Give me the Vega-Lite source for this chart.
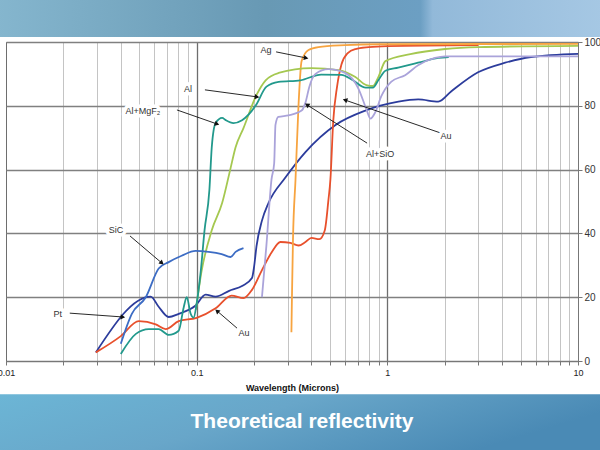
{
  "$schema": "https://vega.github.io/schema/vega-lite/v6.json",
  "width": 572,
  "height": 319,
  "autosize": {"type": "none"},
  "padding": {"left": 6, "top": 42, "right": 22, "bottom": 89},
  "background": "white",
  "title": {
    "text": "Theoretical reflectivity",
    "orient": "bottom",
    "anchor": "middle",
    "frame": "group",
    "color": "white",
    "font": "Liberation Sans",
    "fontSize": 21,
    "fontWeight": "bold",
    "offset": -39,
    "dx": 10,
    "zindex": 1
  },
  "config": {
    "view": {"stroke": "#8a8a8a"},
    "font": "Liberation Sans"
  },
  "datasets": {
    "curves": [
      {"m": "Pt", "w": 0.0296, "r": 2.7}, {"m": "Pt", "w": 0.0574, "r": 20.2}, {"m": "Pt", "w": 0.0632, "r": 17}, {"m": "Pt", "w": 0.0713, "r": 13.8}, {"m": "Pt", "w": 0.0805, "r": 14.8}, {"m": "Pt", "w": 0.0988, "r": 17.4}, {"m": "Pt", "w": 0.1114, "r": 20.8}, {"m": "Pt", "w": 0.1257, "r": 20.2}, {"m": "Pt", "w": 0.148, "r": 22}, {"m": "Pt", "w": 0.174, "r": 23.6}, {"m": "Pt", "w": 0.195, "r": 26}, {"m": "Pt", "w": 0.2, "r": 29.5}, {"m": "Pt", "w": 0.206, "r": 36}, {"m": "Pt", "w": 0.22, "r": 44}, {"m": "Pt", "w": 0.238, "r": 49.5}, {"m": "Pt", "w": 0.292, "r": 57.5}, {"m": "Pt", "w": 0.372, "r": 65.5}, {"m": "Pt", "w": 0.535, "r": 74}, {"m": "Pt", "w": 0.767, "r": 78.5}, {"m": "Pt", "w": 1.143, "r": 81.3}, {"m": "Pt", "w": 1.452, "r": 82}, {"m": "Pt", "w": 1.85, "r": 81.3}, {"m": "Pt", "w": 2.16, "r": 84.5}, {"m": "Pt", "w": 2.99, "r": 90.5}, {"m": "Pt", "w": 4.15, "r": 93.5}, {"m": "Pt", "w": 5.67, "r": 95.3}, {"m": "Pt", "w": 10, "r": 96.3},
      {"m": "Au", "w": 0.0296, "r": 2.7}, {"m": "Au", "w": 0.04, "r": 7.8}, {"m": "Au", "w": 0.0497, "r": 12.5}, {"m": "Au", "w": 0.061, "r": 11.5}, {"m": "Au", "w": 0.0688, "r": 10}, {"m": "Au", "w": 0.0805, "r": 12.5}, {"m": "Au", "w": 0.1, "r": 13.5}, {"m": "Au", "w": 0.1257, "r": 16.5}, {"m": "Au", "w": 0.1525, "r": 20.5}, {"m": "Au", "w": 0.176, "r": 19.7}, {"m": "Au", "w": 0.195, "r": 22.3}, {"m": "Au", "w": 0.22, "r": 28.5}, {"m": "Au", "w": 0.247, "r": 34}, {"m": "Au", "w": 0.275, "r": 37.3}, {"m": "Au", "w": 0.31, "r": 37}, {"m": "Au", "w": 0.342, "r": 36.2}, {"m": "Au", "w": 0.372, "r": 37.3}, {"m": "Au", "w": 0.4, "r": 38.6}, {"m": "Au", "w": 0.44, "r": 38.2}, {"m": "Au", "w": 0.47, "r": 41}, {"m": "Au", "w": 0.491, "r": 50.5}, {"m": "Au", "w": 0.503, "r": 57}, {"m": "Au", "w": 0.52, "r": 75}, {"m": "Au", "w": 0.545, "r": 86}, {"m": "Au", "w": 0.575, "r": 93}, {"m": "Au", "w": 0.62, "r": 96.5}, {"m": "Au", "w": 0.68, "r": 97.8}, {"m": "Au", "w": 0.8, "r": 98.4}, {"m": "Au", "w": 1, "r": 98.7}, {"m": "Au", "w": 3, "r": 99},
      {"m": "Ag", "w": 0.314, "r": 9}, {"m": "Ag", "w": 0.316, "r": 20}, {"m": "Ag", "w": 0.32, "r": 38}, {"m": "Ag", "w": 0.33, "r": 57}, {"m": "Ag", "w": 0.342, "r": 80}, {"m": "Ag", "w": 0.355, "r": 94}, {"m": "Ag", "w": 0.386, "r": 97.5}, {"m": "Ag", "w": 0.435, "r": 98.4}, {"m": "Ag", "w": 0.6, "r": 99}, {"m": "Ag", "w": 0.9, "r": 99.3}, {"m": "Ag", "w": 10, "r": 99.4},
      {"m": "Al", "w": 0.099, "r": 16}, {"m": "Al", "w": 0.106, "r": 28}, {"m": "Al", "w": 0.12, "r": 41}, {"m": "Al", "w": 0.136, "r": 49.5}, {"m": "Al", "w": 0.15, "r": 60}, {"m": "Al", "w": 0.16, "r": 67}, {"m": "Al", "w": 0.176, "r": 73}, {"m": "Al", "w": 0.206, "r": 83.4}, {"m": "Al", "w": 0.23, "r": 88}, {"m": "Al", "w": 0.269, "r": 90.3}, {"m": "Al", "w": 0.4, "r": 91.8}, {"m": "Al", "w": 0.554, "r": 91.2}, {"m": "Al", "w": 0.68, "r": 89}, {"m": "Al", "w": 0.776, "r": 86.5}, {"m": "Al", "w": 0.84, "r": 86.2}, {"m": "Al", "w": 0.897, "r": 89}, {"m": "Al", "w": 0.977, "r": 94}, {"m": "Al", "w": 1.32, "r": 96.2}, {"m": "Al", "w": 2.01, "r": 97.8}, {"m": "Al", "w": 2.99, "r": 98.4}, {"m": "Al", "w": 10, "r": 98.8},
      {"m": "Al+MgF2", "w": 0.04, "r": 2.2}, {"m": "Al+MgF2", "w": 0.048, "r": 8.5}, {"m": "Al+MgF2", "w": 0.0561, "r": 10}, {"m": "Al+MgF2", "w": 0.0632, "r": 10}, {"m": "Al+MgF2", "w": 0.0713, "r": 8.2}, {"m": "Al+MgF2", "w": 0.0805, "r": 9.5}, {"m": "Al+MgF2", "w": 0.0855, "r": 16.8}, {"m": "Al+MgF2", "w": 0.0887, "r": 20}, {"m": "Al+MgF2", "w": 0.093, "r": 14.8}, {"m": "Al+MgF2", "w": 0.0964, "r": 13.6}, {"m": "Al+MgF2", "w": 0.1, "r": 18}, {"m": "Al+MgF2", "w": 0.105, "r": 28}, {"m": "Al+MgF2", "w": 0.11, "r": 41}, {"m": "Al+MgF2", "w": 0.1166, "r": 53.6}, {"m": "Al+MgF2", "w": 0.12, "r": 67}, {"m": "Al+MgF2", "w": 0.1257, "r": 74.6}, {"m": "Al+MgF2", "w": 0.136, "r": 76.2}, {"m": "Al+MgF2", "w": 0.142, "r": 75.5}, {"m": "Al+MgF2", "w": 0.156, "r": 74.6}, {"m": "Al+MgF2", "w": 0.173, "r": 75.5}, {"m": "Al+MgF2", "w": 0.2036, "r": 80}, {"m": "Al+MgF2", "w": 0.2324, "r": 86}, {"m": "Al+MgF2", "w": 0.269, "r": 87.5}, {"m": "Al+MgF2", "w": 0.35, "r": 88}, {"m": "Al+MgF2", "w": 0.45, "r": 89.8}, {"m": "Al+MgF2", "w": 0.574, "r": 89.7}, {"m": "Al+MgF2", "w": 0.66, "r": 88}, {"m": "Al+MgF2", "w": 0.77, "r": 85.7}, {"m": "Al+MgF2", "w": 0.84, "r": 85.7}, {"m": "Al+MgF2", "w": 0.897, "r": 88}, {"m": "Al+MgF2", "w": 0.977, "r": 91}, {"m": "Al+MgF2", "w": 1.14, "r": 92}, {"m": "Al+MgF2", "w": 1.45, "r": 93.5}, {"m": "Al+MgF2", "w": 1.85, "r": 95}, {"m": "Al+MgF2", "w": 2.1, "r": 95.3},
      {"m": "Al+SiO", "w": 0.22, "r": 20}, {"m": "Al+SiO", "w": 0.232, "r": 36}, {"m": "Al+SiO", "w": 0.247, "r": 57}, {"m": "Al+SiO", "w": 0.255, "r": 62}, {"m": "Al+SiO", "w": 0.259, "r": 74}, {"m": "Al+SiO", "w": 0.268, "r": 76.5}, {"m": "Al+SiO", "w": 0.303, "r": 77}, {"m": "Al+SiO", "w": 0.355, "r": 78.5}, {"m": "Al+SiO", "w": 0.372, "r": 81}, {"m": "Al+SiO", "w": 0.39, "r": 86}, {"m": "Al+SiO", "w": 0.42, "r": 90}, {"m": "Al+SiO", "w": 0.49, "r": 91.5}, {"m": "Al+SiO", "w": 0.6, "r": 90.3}, {"m": "Al+SiO", "w": 0.705, "r": 85.4}, {"m": "Al+SiO", "w": 0.776, "r": 79}, {"m": "Al+SiO", "w": 0.815, "r": 76}, {"m": "Al+SiO", "w": 0.865, "r": 78}, {"m": "Al+SiO", "w": 0.93, "r": 83}, {"m": "Al+SiO", "w": 1.05, "r": 87.6}, {"m": "Al+SiO", "w": 1.24, "r": 89.6}, {"m": "Al+SiO", "w": 1.45, "r": 92.7}, {"m": "Al+SiO", "w": 1.78, "r": 95}, {"m": "Al+SiO", "w": 2.01, "r": 95.5}, {"m": "Al+SiO", "w": 10, "r": 95.5},
      {"m": "SiC", "w": 0.04, "r": 5.4}, {"m": "SiC", "w": 0.0457, "r": 14.8}, {"m": "SiC", "w": 0.0541, "r": 20}, {"m": "SiC", "w": 0.0632, "r": 29}, {"m": "SiC", "w": 0.0713, "r": 31}, {"m": "SiC", "w": 0.0834, "r": 33}, {"m": "SiC", "w": 0.0988, "r": 34.5}, {"m": "SiC", "w": 0.1156, "r": 34.2}, {"m": "SiC", "w": 0.1352, "r": 33.5}, {"m": "SiC", "w": 0.1507, "r": 32.6}, {"m": "SiC", "w": 0.16, "r": 34.2}, {"m": "SiC", "w": 0.176, "r": 35.4}
    ],
    "notes": [
      {"label": "Ag", "lx": 0.231, "ly": 97.5, "sx": 0.261, "sy": 96.9, "tx": 0.375, "ty": 95},
      {"label": "Al", "lx": 0.09, "ly": 85.3, "sx": 0.1105, "sy": 85, "tx": 0.2073, "ty": 82.8},
      {"label": "Al+MgF₂", "lx": 0.0522, "ly": 78.4, "sx": 0.0788, "sy": 78.7, "tx": 0.1279, "ty": 74.3},
      {"label": "SiC", "lx": 0.0377, "ly": 41, "sx": 0.0447, "sy": 39.2, "tx": 0.0657, "ty": 30.7},
      {"label": "Pt", "lx": 0.0187, "ly": 14.7, "sx": 0.0216, "sy": 15, "tx": 0.041, "ty": 13.8},
      {"label": "Au", "lx": 0.177, "ly": 8.8, "sx": 0.1628, "sy": 10.3, "tx": 0.1279, "ty": 15.7},
      {"label": "Al+SiO", "lx": 0.917, "ly": 64.9, "sx": 0.783, "sy": 68.3, "tx": 0.379, "ty": 80.3},
      {"label": "Au", "lx": 2.03, "ly": 70.5, "sx": 1.963, "sy": 71.2, "tx": 0.6, "ty": 81.8}
    ],
    "one": [{"k": 1}]
  },
  "layer": [
    {
      "data": {"name": "curves"},
      "mark": {"type": "line", "strokeWidth": 1.8, "interpolate": "monotone"},
      "encoding": {
        "x": {
          "field": "w", "type": "quantitative", "title": "Wavelength (Microns)",
          "scale": {"type": "log", "domain": [0.01, 10], "nice": false},
          "axis": {
            "values": [0.01, 0.02, 0.03, 0.04, 0.05, 0.06, 0.07, 0.08, 0.09, 0.1, 0.2, 0.3, 0.4, 0.5, 0.6, 0.7, 0.8, 0.9, 1, 2, 3, 4, 5, 6, 7, 8, 9, 10],
            "labelExpr": "datum.value === 0.01 ? '0.01' : datum.value === 0.1 ? '0.1' : datum.value === 1 ? '1' : datum.value === 10 ? '10' : ''",
            "grid": true,
            "gridColor": {"condition": {"test": "datum.value === 0.01 || datum.value === 0.1 || datum.value === 1 || datum.value === 10", "value": "#6e6e6e"}, "value": "#c4c4c4"},
            "gridWidth": {"condition": {"test": "datum.value === 0.1 || datum.value === 1", "value": 1.3}, "value": 1},
            "tickColor": "#777777",
            "tickSize": 4,
            "domainColor": "#777777",
            "labelFontSize": 9,
            "labelColor": "#222222",
            "labelPadding": 3,
            "labelFlush": false,
            "labelOverlap": false,
            "titleFontSize": 9,
            "titleFontWeight": "bold",
            "titleColor": "#111111",
            "titlePadding": 6
          }
        },
        "y": {
          "field": "r", "type": "quantitative", "title": null,
          "scale": {"domain": [0, 100], "nice": false, "zero": false},
          "axis": {
            "orient": "right",
            "values": [0, 5, 10, 15, 20, 25, 30, 35, 40, 45, 50, 55, 60, 65, 70, 75, 80, 85, 90, 95, 100],
            "labelExpr": "datum.value % 10 === 0 ? datum.label : ''",
            "grid": true,
            "gridColor": {"condition": {"test": "datum.value % 10 === 0", "value": "#808080"}, "value": "#d6d6d6"},
            "gridWidth": {"condition": {"test": "datum.value % 10 === 0", "value": 1.3}, "value": 1},
            "tickOpacity": {"condition": {"test": "datum.value % 10 === 0", "value": 1}, "value": 0},
            "tickColor": "#777777",
            "tickSize": 4,
            "domainColor": "#777777",
            "labelFontSize": 10,
            "labelColor": "#333333",
            "labelPadding": 2,
            "labelFlush": false,
            "labelOverlap": false
          }
        },
        "color": {
          "field": "m", "type": "nominal", "legend": null,
          "scale": {
            "domain": ["Pt", "Au", "Ag", "Al", "Al+MgF2", "Al+SiO", "SiC"],
            "range": ["#2c3c9c", "#e8502c", "#f7a440", "#a5c850", "#22998c", "#aaa3da", "#3c6cc4"]
          }
        }
      }
    },
    {
      "data": {"name": "one"},
      "mark": {"type": "rect", "clip": false, "fill": {"gradient": "linear", "x1": 0, "y1": 0, "x2": 1, "y2": 0, "stops": [{"offset": 0, "color": "#86b7cf"}, {"offset": 0.45, "color": "#6899b4"}, {"offset": 0.7, "color": "#6c9fc3"}, {"offset": 0.72, "color": "#92b9d9"}, {"offset": 1, "color": "#a6c8e4"}]}},
      "encoding": {
        "x": {"datum": 0.008, "type": "quantitative", "scale": {"type": "log", "domain": [0.01, 10], "nice": false}},
        "x2": {"datum": 14},
        "y": {"datum": 101.6, "type": "quantitative", "scale": {"domain": [0, 100], "nice": false, "zero": false}},
        "y2": {"datum": 116}
      }
    },
    {
      "data": {"name": "one"},
      "mark": {"type": "rect", "clip": false, "fill": {"gradient": "linear", "x1": 0, "y1": 0, "x2": 1, "y2": 0.3, "stops": [{"offset": 0, "color": "#6cb6d6"}, {"offset": 0.5, "color": "#68a6c9"}, {"offset": 1, "color": "#4a8ab5"}]}},
      "encoding": {
        "x": {"datum": 0.008, "type": "quantitative", "scale": {"type": "log", "domain": [0.01, 10], "nice": false}},
        "x2": {"datum": 14},
        "y": {"datum": -10.4, "type": "quantitative", "scale": {"domain": [0, 100], "nice": false, "zero": false}},
        "y2": {"datum": -28}
      }
    },
    {
      "data": {"name": "notes"},
      "mark": {"type": "rule", "color": "#111111", "strokeWidth": 0.9},
      "encoding": {
        "x": {"field": "sx", "type": "quantitative", "scale": {"type": "log", "domain": [0.01, 10], "nice": false}, "title": "Wavelength (Microns)"},
        "x2": {"field": "tx"},
        "y": {"field": "sy", "type": "quantitative", "scale": {"domain": [0, 100], "nice": false, "zero": false}, "title": null},
        "y2": {"field": "ty"}
      }
    },
    {
      "data": {"name": "notes"},
      "mark": {"type": "point", "shape": "triangle-right", "filled": true, "color": "#111111", "opacity": 1, "size": 28,
        "angle": {"expr": "atan2(-3.19 * (datum.ty - datum.sy), 190.5 * log(datum.tx / datum.sx) / LN10) * 180 / PI"}},
      "encoding": {
        "x": {"field": "tx", "type": "quantitative", "scale": {"type": "log", "domain": [0.01, 10], "nice": false}, "title": "Wavelength (Microns)"},
        "y": {"field": "ty", "type": "quantitative", "scale": {"domain": [0, 100], "nice": false, "zero": false}, "title": null}
      }
    },
    {
      "data": {"name": "notes"},
      "mark": {"type": "text", "fontSize": 9, "font": "Liberation Sans", "color": "white", "stroke": "white", "strokeWidth": 7, "strokeJoin": "round", "align": "center", "baseline": "middle"},
      "encoding": {
        "x": {"field": "lx", "type": "quantitative", "scale": {"type": "log", "domain": [0.01, 10], "nice": false}, "title": "Wavelength (Microns)"},
        "y": {"field": "ly", "type": "quantitative", "scale": {"domain": [0, 100], "nice": false, "zero": false}, "title": null},
        "text": {"field": "label"}
      }
    },
    {
      "data": {"name": "notes"},
      "mark": {"type": "text", "fontSize": 9, "font": "Liberation Sans", "color": "#333333", "align": "center", "baseline": "middle"},
      "encoding": {
        "x": {"field": "lx", "type": "quantitative", "scale": {"type": "log", "domain": [0.01, 10], "nice": false}, "title": "Wavelength (Microns)"},
        "y": {"field": "ly", "type": "quantitative", "scale": {"domain": [0, 100], "nice": false, "zero": false}, "title": null},
        "text": {"field": "label"}
      }
    }
  ]
}
